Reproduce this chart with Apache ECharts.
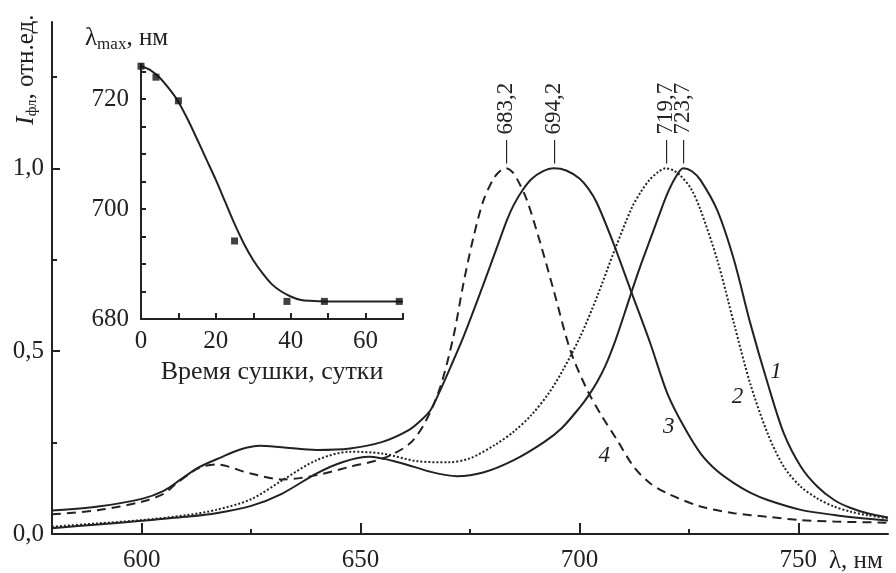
<!DOCTYPE html>
<html>
<head>
<meta charset="utf-8">
<script src="https://cdn.jsdelivr.net/npm/echarts@6/dist/echarts.min.js"></script>
<style>
html,body{margin:0;padding:0;background:#fff;}
#chart{width:896px;height:573px;}
</style>
</head>
<body>
<div id="chart"></div>
<script>
// ---- main spectra: [wavelength nm, relative intensity] ----
var curve1 = [[579.5,0.016],[590,0.026],[600,0.036],[610,0.047],[617,0.057],[625,0.077],[632,0.110],[640,0.166],[646,0.197],[652,0.211],[659,0.195],[666,0.170],[672,0.158],[678,0.168],[685,0.202],[692,0.252],[696,0.290],[700,0.345],[702,0.377],[704,0.415],[706,0.462],[708,0.522],[710,0.592],[712,0.665],[714,0.735],[716,0.800],[718,0.865],[720,0.928],[722,0.976],[723.7,1.0],[725.7,0.992],[727.7,0.967],[731.5,0.885],[735.3,0.750],[739,0.578],[743,0.412],[746.7,0.275],[750.6,0.184],[754.4,0.129],[758.2,0.093],[762,0.071],[766,0.056],[770.5,0.045]];
var curve2 = [[579.5,0.020],[590,0.029],[600,0.038],[610,0.051],[617,0.066],[625,0.095],[632,0.146],[640,0.202],[647.6,0.225],[655,0.220],[663,0.199],[670,0.196],[675,0.207],[681,0.246],[685,0.280],[689,0.325],[693,0.385],[696.4,0.452],[700.2,0.540],[704,0.648],[708,0.775],[712,0.893],[714,0.935],[716,0.968],[718,0.990],[719.7,1.0],[721.5,0.994],[723,0.981],[725.5,0.944],[727.7,0.885],[731.5,0.749],[735.3,0.576],[739,0.412],[743,0.275],[746.7,0.184],[750.6,0.129],[754.4,0.097],[758.2,0.075],[762,0.061],[766,0.051],[770.5,0.043]];
var curve3 = [[579.5,0.064],[590,0.075],[600,0.096],[605,0.118],[609,0.150],[613,0.182],[618,0.209],[622.5,0.231],[627,0.241],[632,0.237],[640,0.230],[647.6,0.234],[655,0.252],[661,0.284],[664,0.313],[666,0.339],[668.2,0.393],[670.5,0.455],[673.5,0.539],[677.3,0.658],[681.2,0.785],[683.5,0.860],[685,0.900],[687,0.940],[689,0.970],[691.5,0.991],[694.2,1.0],[697,0.994],[700,0.972],[702,0.945],[704,0.905],[707.8,0.794],[711.7,0.667],[716.2,0.521],[720.1,0.384],[723.9,0.293],[727.7,0.220],[731.5,0.172],[735.3,0.139],[739,0.113],[743,0.093],[750.6,0.066],[758.2,0.052],[764,0.044],[770.5,0.037]];
var curve4 = [[579.5,0.054],[590,0.065],[600,0.088],[605,0.110],[608,0.139],[613,0.180],[617,0.190],[624.7,0.166],[632.3,0.149],[640,0.161],[647.6,0.184],[655.2,0.207],[661.3,0.248],[665,0.311],[668.2,0.402],[671.2,0.539],[673.5,0.685],[675.8,0.812],[678.1,0.913],[680.4,0.972],[681.8,0.992],[683.2,1.0],[684.5,0.992],[685.7,0.972],[688,0.913],[691.1,0.794],[694.1,0.667],[697.9,0.503],[701.8,0.393],[705,0.325],[708.6,0.257],[712.4,0.184],[716,0.140],[720.1,0.111],[727.7,0.075],[735.3,0.057],[743,0.047],[750.6,0.038],[758.2,0.034],[770.5,0.031]];
var peakWavelengths = [723.7, 719.7, 694.2, 683.2];
var peakHeights = [1.0, 1.0, 1.0, 1.0];
var curveNames = ['1', '2', '3', '4'];

// ---- main axes ticks ----
var xMajorTicks = [600, 650, 700, 750];
var xMinorTicks = [625, 675, 725];
var yMajorTicks = [0, 0.5, 1.0];
var yMinorTicks = [0.25, 0.75, 1.25];

// ---- inset: lambda_max vs drying time ----
var insetDays = [0, 4, 10, 25, 39, 49, 69];
var insetLambda = [726.0, 724.0, 719.7, 694.2, 683.2, 683.2, 683.2];
var fitDays = [0, 2.5, 5, 7.5, 10, 12.5, 15, 17.5, 20, 22.5, 25, 27.5, 30, 32.5, 35, 37.5, 40, 42.5, 45, 50, 60, 70];
var fitLambda = [726.0, 725.3, 723.9, 721.9, 719.5, 716.3, 712.7, 709.0, 705.3, 701.3, 697.3, 693.7, 690.7, 688.3, 686.3, 685.0, 684.1, 683.5, 683.3, 683.2, 683.2, 683.2];
var insetXTicks = [0, 10, 20, 30, 40, 50, 60, 70];
var insetXLabels = [0, 20, 40, 60];
var insetYTicks = [680, 685, 690, 695, 700, 705, 710, 715, 720, 725];
var insetYLabels = [680, 700, 720];

var INK = '#222';
var SERIF = '"Liberation Serif","DejaVu Serif",serif';
var FS = 25;

function comma(v) { return v.toFixed(1).replace('.', ','); }
function zipXY(xs, ys) { return xs.map(function (x, i) { return [x, ys[i]]; }); }

var lineStyles = [
  { color: INK, width: 2, type: 'solid' },
  { color: INK, width: 2, type: 'dotted' },
  { color: INK, width: 2, type: 'solid' },
  { color: INK, width: 2, type: [9, 6] }
];
var curveLabelPos = [[744.9, 0.443], [736.1, 0.375], [720.4, 0.293], [705.7, 0.213]];
var curves = [curve1, curve2, curve3, curve4];

var series = curves.map(function (c, i) {
  return {
    type: 'line', xAxisIndex: 0, yAxisIndex: 0, data: c,
    smooth: 0.3, showSymbol: false, symbol: 'none',
    lineStyle: lineStyles[i], silent: true, z: 3,
    markPoint: {
      symbol: 'circle', symbolSize: 0, silent: true,
      data: [
        { coord: [peakWavelengths[i], peakHeights[i]],
          label: { show: true, formatter: '\u2014 ' + comma(peakWavelengths[i]), position: 'top', distance: 5,
                   rotate: 90, align: 'left', verticalAlign: 'middle',
                   fontFamily: SERIF, fontSize: 23, color: INK } },
        { coord: curveLabelPos[i],
          label: { show: true, formatter: curveNames[i], position: 'inside',
                   fontFamily: SERIF, fontStyle: 'italic', fontSize: 23, color: INK } }
      ]
    }
  };
});

series.push({
  type: 'line', xAxisIndex: 2, yAxisIndex: 2, data: zipXY(fitDays, fitLambda),
  smooth: 0.3, showSymbol: false, symbol: 'none', silent: true,
  lineStyle: { color: INK, width: 2 }
});
series.push({
  type: 'scatter', xAxisIndex: 2, yAxisIndex: 2, data: zipXY(insetDays, insetLambda),
  symbol: 'rect', symbolSize: 7, itemStyle: { color: '#111' }, silent: true, z: 4
});

var axisLineStyle = { color: INK, width: 2 };

var option = {
  backgroundColor: '#fff',
  animation: false,
  grid: [
    { left: 52, top: 22, width: 836, height: 512 },
    { left: 141, top: 64, width: 262, height: 255 }
  ],
  xAxis: [
    { gridIndex: 0, type: 'value', position: 'bottom', min: 579.5, max: 770.5,
      axisLine: { lineStyle: axisLineStyle },
      axisTick: { inside: true, length: 11, customValues: xMajorTicks, lineStyle: { color: INK, width: 2 } },
      axisLabel: { customValues: xMajorTicks, fontFamily: SERIF, fontSize: FS, color: INK, margin: 14 },
      splitLine: { show: false } },
    { gridIndex: 0, type: 'value', position: 'bottom', offset: 0, min: 579.5, max: 770.5,
      axisLine: { show: false },
      axisTick: { inside: true, length: 5, customValues: xMinorTicks, lineStyle: { color: INK, width: 2 } },
      axisLabel: { show: false }, splitLine: { show: false } },
    { gridIndex: 1, type: 'value', position: 'bottom', min: 0, max: 70,
      axisLine: { lineStyle: axisLineStyle },
      axisTick: { inside: true, length: 6, customValues: insetXTicks, lineStyle: { color: INK, width: 2 } },
      axisLabel: { customValues: insetXLabels, fontFamily: SERIF, fontSize: FS, color: INK, margin: 10 },
      splitLine: { show: false },
      name: 'Время сушки, сутки', nameLocation: 'middle', nameGap: 40,
      nameTextStyle: { fontFamily: SERIF, fontSize: 26, color: INK } }
  ],
  yAxis: [
    { gridIndex: 0, type: 'value', position: 'left', min: 0, max: 1.4,
      axisLine: { lineStyle: axisLineStyle },
      axisTick: { inside: true, length: 8, customValues: yMajorTicks, lineStyle: { color: INK, width: 2 } },
      axisLabel: { customValues: yMajorTicks, formatter: comma, fontFamily: SERIF, fontSize: FS, color: INK, margin: 8 },
      splitLine: { show: false } },
    { gridIndex: 0, type: 'value', position: 'left', offset: 0, min: 0, max: 1.4,
      axisLine: { show: false },
      axisTick: { inside: true, length: 5, customValues: yMinorTicks, lineStyle: { color: INK, width: 2 } },
      axisLabel: { show: false }, splitLine: { show: false } },
    { gridIndex: 1, type: 'value', position: 'left', min: 680, max: 726.4,
      axisLine: { lineStyle: axisLineStyle },
      axisTick: { inside: true, length: 5, customValues: insetYTicks, lineStyle: { color: INK, width: 2 } },
      axisLabel: { customValues: insetYLabels, fontFamily: SERIF, fontSize: FS, color: INK, margin: 12 },
      splitLine: { show: false } }
  ],
  graphic: [
    { type: 'text', x: 26, y: 125, rotation: Math.PI / 2, silent: true,
      style: { text: '{i|I}{s|фл}{n|, отн.ед.}', align: 'left', verticalAlign: 'middle', fill: INK,
        rich: {
          i: { fontFamily: SERIF, fontStyle: 'italic', fontSize: 26, lineHeight: 28, color: INK },
          s: { fontFamily: SERIF, fontSize: 15, lineHeight: 15, verticalAlign: 'bottom', color: INK },
          n: { fontFamily: SERIF, fontSize: FS, lineHeight: 28, color: INK }
        } } },
    { type: 'text', x: 829, y: 561, silent: true,
      style: { text: 'λ, нм', align: 'left', verticalAlign: 'middle', fill: INK,
               font: FS + 'px ' + SERIF } },
    { type: 'text', x: 85, y: 38, silent: true,
      style: { text: '{a|λ}{s|max}{c|,}{b| нм}', align: 'left', verticalAlign: 'middle', fill: INK,
        rich: {
          a: { fontFamily: SERIF, fontSize: FS, lineHeight: 30, color: INK },
          s: { fontFamily: SERIF, fontSize: 17, lineHeight: 17, verticalAlign: 'bottom', color: INK },
          c: { fontFamily: SERIF, fontSize: FS, lineHeight: 30, color: INK },
          b: { fontFamily: SERIF, fontSize: FS, lineHeight: 30, color: INK }
        } } }
  ],
  series: series
};

var chart = echarts.init(document.getElementById('chart'), null, { renderer: 'canvas' });
chart.setOption(option);
</script>
</body>
</html>
